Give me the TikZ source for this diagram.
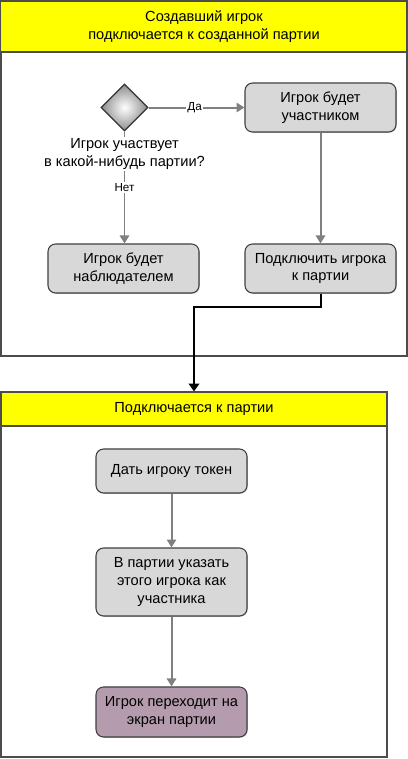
\documentclass[tikz,border=0pt]{standalone}
\usepackage{fontspec}
\setmainfont{Liberation Sans}
\usetikzlibrary{shapes.geometric,arrows.meta,shadows}
\definecolor{poolyellow}{RGB}{255,255,0}
\definecolor{taskgray}{RGB}{216,216,216}
\definecolor{taskmauve}{RGB}{180,156,174}
\tikzset{
  pool/.style={draw=black!70, line width=0.8pt, fill=white},
  poolhead/.style={draw=black!70, line width=0.8pt, fill=poolyellow, inner sep=0pt, align=center, font=\fontsize{11}{13.5}\selectfont},
  task/.style={draw=black!75, line width=0.8pt, fill=taskgray, rounded corners=0.2cm, minimum width=3.995cm, inner sep=0pt, align=center, font=\fontsize{11}{13.5}\selectfont, drop shadow={shadow xshift=0.6pt, shadow yshift=-0.6pt, opacity=0.45}},
  gate/.style={diamond, draw=black!80, line width=1pt, inner sep=0pt, minimum width=1.244cm, minimum height=1.244cm, inner color=white, outer color=black!45},
  flow/.style={draw=black!50, line width=1.5pt, -{Triangle[length=6pt,width=7pt]}},
  handoff/.style={draw=black, line width=1.5pt, -{Triangle[length=6pt,width=8pt]}},
  flowlabel/.style={fill=white, inner sep=1pt, font=\fontsize{8.8}{10}\selectfont},
  qlabel/.style={fill=white, inner sep=1pt, align=center, font=\fontsize{11}{13.5}\selectfont},
}

\begin{document}
\begin{tikzpicture}
\useasboundingbox (0,0) rectangle (10.795,20.082);
% top pool
\draw[pool] (0.026,10.663) rectangle (10.769,20.055);
\node[poolhead, minimum width=10.743cm, minimum height=1.349cm] (hdra) at (5.397,19.381) {Создавший игрок\\подключается к созданной партии};
\node[gate] (gate) at (3.294,17.237) {};
\node[task, minimum height=1.296cm] (part) at (8.480,17.237) {Игрок будет\\участником};
\node[task, minimum height=1.296cm] (watch) at (3.268,12.978) {Игрок будет\\наблюдателем};
\node[task, minimum height=1.296cm] (join) at (8.480,12.978) {Подключить игрока\\к партии};
\draw[flow] (gate) -- node[flowlabel, pos=0.48] {Да} (part);
\draw[flow] (gate) -- node[qlabel, pos=0.2] {Игрок участвует\\в какой-нибудь партии?}
  node[flowlabel, pos=0.5] {Нет} (gate |- watch.north);
\draw[flow] (part) -- (join);
% bottom pool
\draw[pool] (0.026,0.053) rectangle (10.239,9.710);
\node[poolhead, minimum width=10.213cm, minimum height=0.900cm] (hdrb) at (5.133,9.260) {Подключается к партии};
\node[task, minimum height=1.164cm] (token) at (4.538,7.620) {Дать игроку токен};
\node[task, minimum height=1.799cm] (mark) at (4.538,4.683) {В партии указать\\этого игрока как\\участника};
\node[task, minimum height=1.323cm, fill=taskmauve] (screen) at (4.538,1.244) {Игрок переходит на\\экран партии};
\draw[flow] (token) -- (mark);
\draw[flow] (mark) -- (screen);
\draw[handoff] (join.south) -- ++(0,-0.370) -| (hdrb.north);
\end{tikzpicture}
\end{document}
